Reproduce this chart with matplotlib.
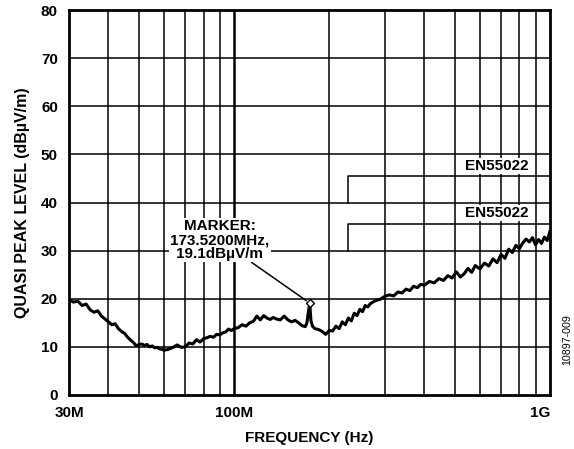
import matplotlib
matplotlib.use('Agg')
import matplotlib.pyplot as plt
from matplotlib.ticker import FixedLocator, NullFormatter

plt.rcParams['font.family'] = ['Liberation Sans', 'DejaVu Sans']

# measured quasi-peak level, frequency in MHz
FREQ_MHZ = [30, 31, 32, 33, 34, 35, 36, 37, 38, 39, 40, 41, 42, 43, 44, 45, 46, 47, 48, 49, 50,
            51, 52, 53, 54, 55, 56, 57, 58, 59, 60, 62, 64, 66, 68, 70, 72, 74, 76, 78, 80,
            82, 84, 86, 88, 90, 92, 94, 96, 98, 100,
            103, 106, 109, 112, 115, 118, 121, 124, 127, 130, 133, 136, 140, 144, 148, 152,
            156, 160, 164, 168, 170, 172, 173.52, 175, 177, 180,
            185, 190, 195, 200, 205, 210, 215, 220, 225, 230, 235, 240, 245, 250, 255, 260,
            265, 270, 280, 290, 300,
            310, 320, 330, 340, 350, 360, 370, 380, 390, 400, 415, 430, 445, 460, 475, 490,
            505, 520, 535, 550, 565, 580, 600, 620, 640, 660, 680, 700, 720, 740, 760, 780,
            800, 820, 840, 860, 880, 900, 920, 940, 960, 980, 1000]
LEVEL = [19.8, 19.3, 19.5, 18.6, 18.9, 17.7, 17.2, 17.5, 16.4, 15.8, 15.2, 14.6, 14.8, 13.8,
         13.2, 12.8, 12.0, 11.4, 10.9, 10.2, 10.5,
         10.6, 10.3, 10.5, 10.0, 10.2, 9.8, 9.9, 9.6, 9.5, 9.3, 9.5, 9.9, 10.4, 9.9, 10.0,
         10.8, 10.6, 11.5, 11.0, 11.7, 11.9, 12.2, 12.0, 12.6, 12.5, 12.9, 13.1, 13.7, 13.4, 13.8,
         14.0, 14.6, 14.3, 15.0, 15.3, 16.4, 15.6, 16.5, 16.0, 15.7, 16.1, 15.8, 15.6, 16.4,
         15.6, 15.2, 15.5, 15.0, 14.4, 14.2, 15.0, 17.5, 19.1, 15.5, 14.3, 13.8,
         13.6, 13.2, 12.6, 13.4, 13.3, 14.3, 13.8, 15.2, 14.6, 16.0, 15.4, 17.0, 16.5, 17.8,
         17.3, 18.6, 18.3, 19.0, 19.6, 19.9, 20.5,
         20.8, 20.6, 21.4, 21.2, 22.0, 21.7, 22.6, 22.3, 23.0, 22.8, 23.6, 23.3, 24.2, 23.8,
         24.8, 24.3, 25.6, 24.5, 25.2, 26.3, 25.5, 26.9, 26.2, 27.4, 26.8, 28.3, 27.5, 29.2,
         28.4, 30.3, 29.6, 31.1, 30.4, 31.6, 32.4, 31.8, 32.7, 31.2, 32.3, 31.5, 32.8, 32.1, 34.0]

# EN55022 limit steps
LIMIT_F = [230, 230, 1000]
LIMIT_LOW = [30, 35.5, 35.5]
LIMIT_HIGH = [40, 45.5, 45.5]

MARKER_F = 173.52
MARKER_LEVEL = 19.1

X_MAJOR = [30, 100, 1000]
X_LABELS = ['30M', '100M', '1G']
X_GRID = [40, 50, 60, 70, 80, 90, 200, 300, 400, 500, 600, 700, 800, 900]
Y_TICKS = [0, 10, 20, 30, 40, 50, 60, 70, 80]

fig = plt.figure(figsize=(5.74, 4.49), dpi=100)
ax = fig.add_axes([69 / 574, 54 / 449, 481 / 574, 385 / 449])

ax.set_xscale('log')
ax.set_xlim(30, 1000)
ax.set_ylim(0, 80)

for f in X_GRID:
    ax.axvline(f, color='black', lw=1.1, zorder=1)
ax.axvline(100, color='black', lw=1.8, zorder=1)
for y in Y_TICKS[1:-1]:
    ax.axhline(y, color='black', lw=1.1, zorder=1)

ax.plot(LIMIT_F, LIMIT_LOW, color='black', lw=1.1, zorder=2)
ax.plot(LIMIT_F, LIMIT_HIGH, color='black', lw=1.1, zorder=2)
for y in (37.8, 47.6):
    ax.text(680, y, 'EN55022', ha='center', va='center', fontsize=11, fontweight='bold',
            bbox=dict(facecolor='white', edgecolor='none', pad=0.5), zorder=3)

ax.plot(FREQ_MHZ, LEVEL, color='black', lw=2.2, zorder=4)
ax.plot([MARKER_F], [MARKER_LEVEL], marker='D', ms=4.5, mfc='white', mec='black',
        mew=1.0, zorder=6)

ax.annotate('MARKER:\n173.5200MHz,\n19.1dBµV/m', xy=(MARKER_F, MARKER_LEVEL),
            xytext=(90, 32.2), ha='center', va='center', fontsize=11, fontweight='bold',
            linespacing=1.0,
            bbox=dict(facecolor='white', edgecolor='none', pad=1.0),
            arrowprops=dict(arrowstyle='-', color='black', lw=1.1, shrinkA=0, shrinkB=3),
            zorder=5)

ax.xaxis.set_major_locator(FixedLocator(X_MAJOR))
ax.set_xticklabels(X_LABELS)
ax.xaxis.set_minor_formatter(NullFormatter())
ax.xaxis.set_minor_locator(FixedLocator([]))
ax.set_yticks(Y_TICKS)
ax.tick_params(axis='both', length=0, labelsize=11, pad=8)
for lbl in ax.get_xticklabels() + ax.get_yticklabels():
    lbl.set_fontweight('bold')
ax.get_xticklabels()[-1].set_horizontalalignment('right')

for s in ax.spines.values():
    s.set_linewidth(2.0)
    s.set_zorder(7)

ax.set_xlabel('FREQUENCY (Hz)', fontsize=11, fontweight='bold', labelpad=8)
ax.set_ylabel('QUASI PEAK LEVEL (dBµV/m)', fontsize=11.5, fontweight='bold', labelpad=8)

fig.text(567 / 574, 0.243, '10897-009', rotation=90, ha='center', va='center',
         fontsize=7.7)

fig.savefig('out.png', dpi=100)
